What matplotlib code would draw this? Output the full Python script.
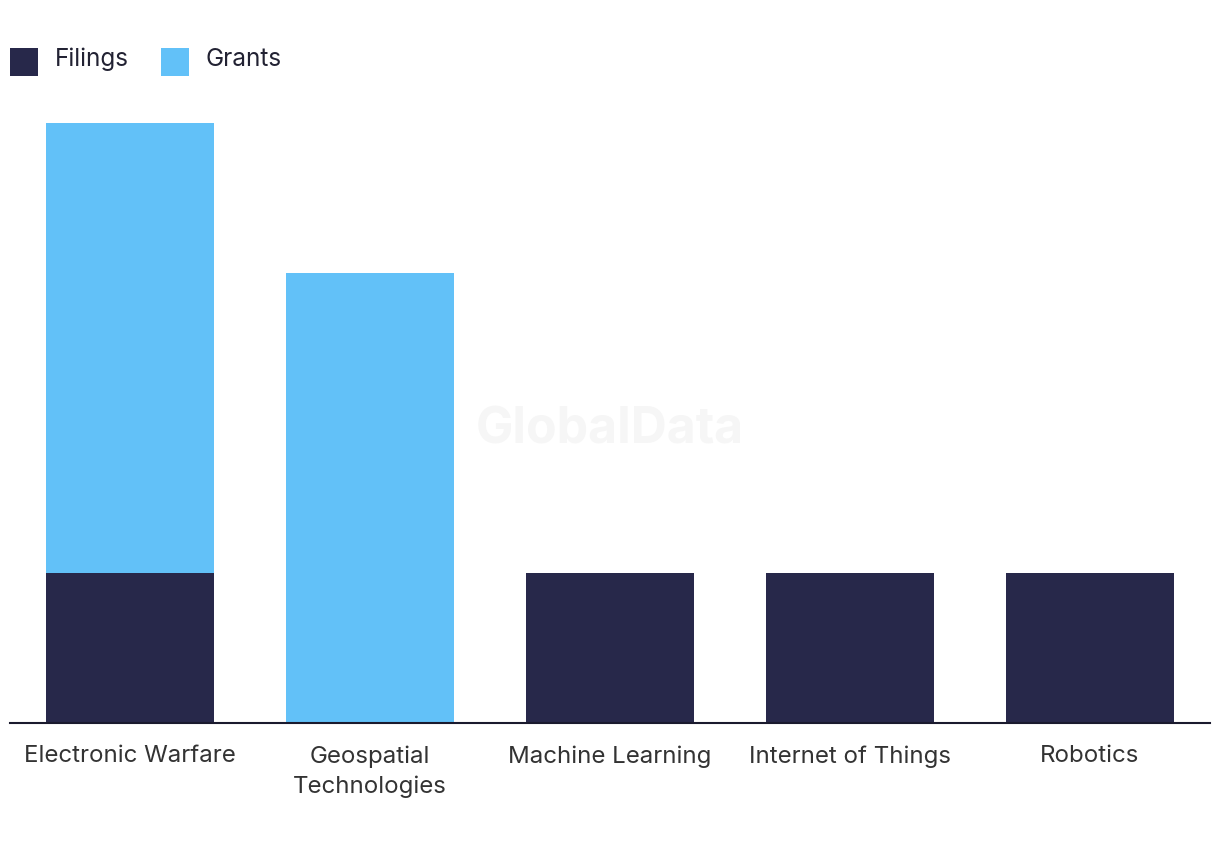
import matplotlib
matplotlib.use("Agg")
import matplotlib.pyplot as plt
import numpy as np

categories = ["Electronic Warfare", "Geospatial\nTechnologies", "Machine Learning",
              "Internet of Things", "Robotics"]
filings = [1, 0, 1, 1, 1]
grants = [3, 3, 0, 0, 0]

navy = "#27284a"
blue = "#62c1f8"

plt.rcParams['font.family'] = ['Inter', 'DejaVu Sans']

fig = plt.figure(figsize=(12.2, 8.5), dpi=100)
ax = fig.add_axes([10 / 1220, (850 - 723) / 850, 1200 / 1220, (723 - 100) / 850])

x = np.arange(len(categories))
ax.bar(x, filings, width=0.7, color=navy, label="Filings")
ax.bar(x, grants, width=0.7, bottom=filings, color=blue, label="Grants")

ax.set_xlim(-0.5, len(categories) - 0.5)
ax.set_ylim(0, (723 - 100) / 150)

for s in ["top", "right", "left"]:
    ax.spines[s].set_visible(False)
ax.spines["bottom"].set_color("#1a1a2e")
ax.spines["bottom"].set_linewidth(1.5)
ax.set_yticks([])
ax.set_xticks(x)
ax.set_xticklabels(categories, fontsize=17.3, color="#333333", linespacing=1.45)
ax.tick_params(axis="x", length=0, pad=16)

# watermark
ax.text(0.5, 0.47, "GlobalData", transform=ax.transAxes, ha="center", va="center",
        fontsize=36, fontweight="bold", color="#f6f6f6", zorder=0)

fig.legend(loc="upper left", bbox_to_anchor=(10 / 1220, 1 - 46 / 850), ncol=2, frameon=False,
           fontsize=17.5, handlelength=1.15, handleheight=1.15, columnspacing=1.3,
           handletextpad=0.7, borderpad=0, borderaxespad=0, labelcolor="#222233")
# square legend markers, a bit lower to line up with the text
for h in fig.legends[0].legend_handles:
    h.set_y(h.get_y() - 4.3)
    h.set_height(20)

fig.savefig("out.png", dpi=100)
